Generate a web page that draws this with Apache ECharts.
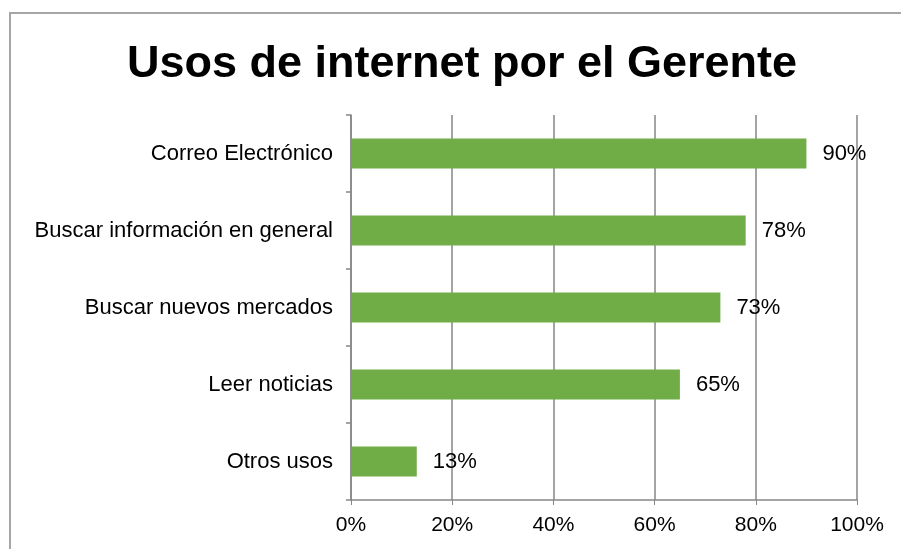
<!DOCTYPE html>
<html><head><meta charset="utf-8">
<script src="https://cdn.jsdelivr.net/npm/echarts@6/dist/echarts.min.js"></script>
<style>html,body{margin:0;padding:0;background:#fff}#c{width:901px;height:549px}</style>
</head><body><div id="c"></div>
<script>
const titleText = 'Usos de internet por el Gerente';
const categories = ['Correo Electrónico','Buscar información en general','Buscar nuevos mercados','Leer noticias','Otros usos'];
const values = [90, 78, 73, 65, 13];
const xTicks = [0, 20, 40, 60, 80, 100];

const chart = echarts.init(document.getElementById('c'), null, {renderer:'canvas'});
chart.setOption({
  backgroundColor:'#fff',
  animation:false,
  title:{text:titleText,left:457,top:37,textAlign:'center',
    textStyle:{fontFamily:'Liberation Sans, Arial',fontWeight:'bold',fontSize:45,color:'#000'}},
  graphic:[{type:'rect',shape:{x:10,y:13,width:1000,height:1000},
    style:{fill:'none',stroke:'#a6a6a6',lineWidth:2},silent:true}],
  grid:{left:351,right:44,top:115,bottom:49,containLabel:false},
  xAxis:{type:'value',min:xTicks[0],max:xTicks[xTicks.length-1],interval:20,
    axisLine:{show:true,lineStyle:{color:'#868686',width:1.5}},
    axisTick:{show:true,length:5,lineStyle:{color:'#868686'}},
    splitLine:{show:true,lineStyle:{color:'#868686',width:1.5}},
    axisLabel:{formatter:v=>v+'%',fontFamily:'Liberation Sans, Arial',fontSize:21,color:'#000',margin:15}},
  yAxis:{type:'category',data:categories,inverse:true,
    axisLine:{show:true,lineStyle:{color:'#868686',width:1.5}},
    axisTick:{show:true,length:5,lineStyle:{color:'#868686',width:1.5}},
    axisLabel:{fontFamily:'Liberation Sans, Arial',fontSize:22,color:'#000',margin:18}},
  series:[{type:'bar',data:values,barWidth:30,
    itemStyle:{color:'#70ad47'},
    label:{show:true,position:'right',distance:16,formatter:p=>p.value+'%',
      fontFamily:'Liberation Sans, Arial',fontSize:22,color:'#000'}}]
});
</script></body></html>
